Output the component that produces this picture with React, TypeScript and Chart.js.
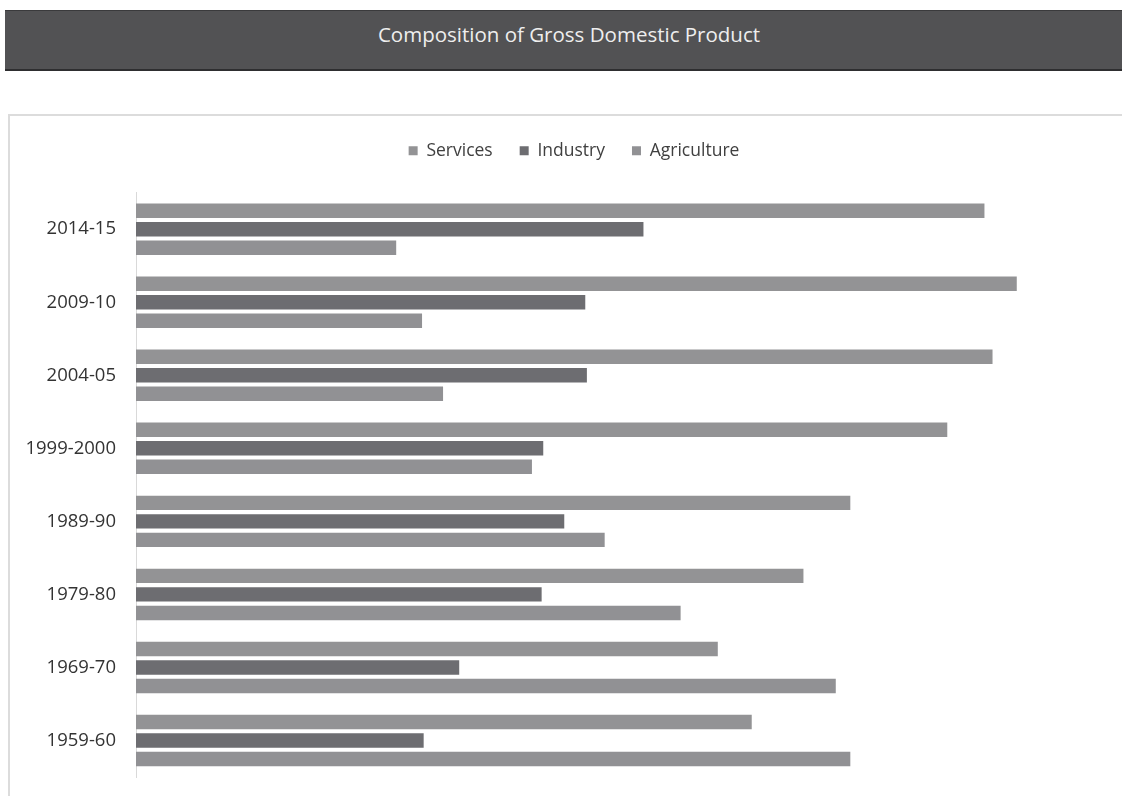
import React, { useEffect, useRef } from "react";
import { Chart, registerables } from "chart.js";

Chart.register(...registerables);

const periods = ["2014-15", "2009-10", "2004-05", "1999-2000", "1989-90", "1979-80", "1969-70", "1959-60"];
const services = [52.5, 54.5, 53.0, 50.2, 44.2, 41.3, 36.0, 38.1];
const industry = [31.4, 27.8, 27.9, 25.2, 26.5, 25.1, 20.0, 17.8];
const agriculture = [16.1, 17.7, 19.0, 24.5, 29.0, 33.7, 43.3, 44.2];
const seriesNames = ["Services", "Industry", "Agriculture"];
const titleText = "Composition of Gross Domestic Product";

const FONT = "'Open Sans', 'Noto Sans', sans-serif";

export default function App() {
  const ref = useRef<HTMLCanvasElement | null>(null);

  useEffect(() => {
    if (!ref.current) return;
    const chart = new Chart(ref.current, {
      type: "bar",
      data: {
        labels: periods,
        datasets: [
          { label: seriesNames[0], data: services, backgroundColor: "#939395" },
          { label: seriesNames[1], data: industry, backgroundColor: "#6d6d71" },
          { label: seriesNames[2], data: agriculture, backgroundColor: "#919194" },
        ],
      },
      options: {
        indexAxis: "y",
        responsive: false,
        animation: false,
        layout: { padding: { left: 0, right: 0, top: 0, bottom: 19 } },
        datasets: {
          bar: { barPercentage: 0.78, categoryPercentage: 0.76 },
        },
        plugins: {
          legend: {
            position: "top",
            labels: {
              boxWidth: 9,
              boxHeight: 9,
              padding: 27,
              color: "#404040",
              font: { family: FONT, size: 17.5 },
            },
          },
          subtitle: {
            display: true,
            text: " ",
            weight: 500,
            font: { size: 1 },
            padding: 11,
          },
          tooltip: { enabled: false },
          title: { display: false },
        },
        scales: {
          x: { display: false, min: 0, max: 62.62 },
          y: {
            afterFit: (s: any) => {
              s.width = 136;
            },
            grid: { display: false, drawTicks: true, tickLength: 20 },
            border: { display: true, color: "#d9d9d9", width: 1 },
            ticks: { color: "#333333", font: { family: FONT, size: 18.5 }, padding: 0 },
          },
        },
      },
    });
    return () => chart.destroy();
  }, []);

  return (
    <div style={{ position: "absolute", left: 0, top: 0, width: 1122, height: 796, overflow: "hidden", background: "#fff" }}>
      <div
        style={{
          position: "absolute",
          left: 5,
          top: 10,
          width: 1128,
          height: 58,
          background: "#525254",
          borderTop: "1px solid #3a3a3c",
          borderBottom: "2px solid #2e2e30",
          color: "#eeeeee",
          fontFamily: FONT,
          fontSize: 20.5,
          textAlign: "center",
          lineHeight: "46px",
        }}
      >
        {titleText}
      </div>
      <div
        style={{
          position: "absolute",
          left: 8,
          top: 114,
          width: 1130,
          height: 700,
          border: "2px solid #dcdcdc",
          boxSizing: "border-box",
        }}
      />
      <canvas
        ref={ref}
        width={1148}
        height={681}
        style={{ position: "absolute", left: 0, top: 115, width: 1148, height: 681 }}
      />
    </div>
  );
}
